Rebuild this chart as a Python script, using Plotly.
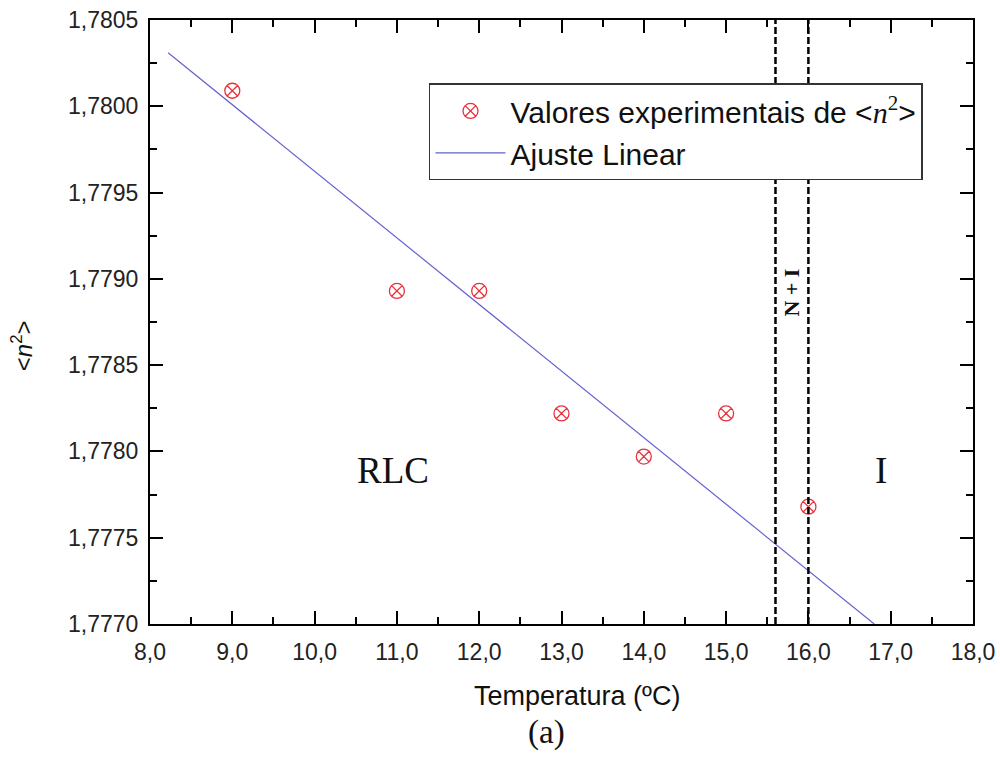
import plotly.graph_objects as go

# Data
temp = [9.0, 11.0, 12.0, 13.0, 14.0, 15.0, 16.0]
n2 = [1.78009, 1.77893, 1.77893, 1.77822, 1.77797, 1.77822, 1.77768]
fit_x = [8.22, 16.80]
fit_y = [1.78031, 1.77700]
phase_lines = [15.6, 16.0]
x_ticks = [8, 9, 10, 11, 12, 13, 14, 15, 16, 17, 18]
y_ticks = [1.7770, 1.7775, 1.7780, 1.7785, 1.7790, 1.7795, 1.7800, 1.7805]

SANS = "Liberation Sans, Arial, sans-serif"
SERIF = "Liberation Serif, Times New Roman, serif"
N2_LABEL = "&lt;<span style='font-family:Liberation Serif'><i>n</i><sup>2</sup></span>&gt;"

fig = go.Figure()
fig.add_trace(go.Scatter(
    x=temp, y=n2, mode="markers",
    name="Valores experimentais de " + N2_LABEL,
    marker=dict(symbol="circle-x-open", size=15, color="#e8323c",
                line=dict(width=1.3, color="#e8323c")),
))
fig.add_trace(go.Scatter(
    x=fit_x, y=fit_y, mode="lines", name="Ajuste Linear",
    line=dict(color="#6262d0", width=1.2),
))

for xv in phase_lines:
    fig.add_shape(type="line", x0=xv, x1=xv, xref="x", y0=0, y1=1, yref="paper",
                  line=dict(color="black", width=2.5, dash="7px,3px"))

axis_common = dict(
    showline=True, linecolor="black", linewidth=2, mirror="ticks",
    ticks="inside", ticklen=13, tickwidth=2, tickcolor="black",
    showgrid=False, zeroline=False, automargin=False,
    tickfont=dict(family=SANS, size=23, color="#222"),
)

fig.update_xaxes(
    range=[8, 18], tickvals=x_ticks, tickformat=".1f", ticklabelstandoff=6,
    minor=dict(ticks="inside", ticklen=7, tickwidth=2, tickcolor="black", dtick=0.5, showgrid=False),
    **axis_common,
)
fig.update_yaxes(
    range=[1.7770, 1.7805], tickvals=y_ticks, tickformat=".4f", ticklabelstandoff=5,
    minor=dict(ticks="inside", ticklen=7, tickwidth=2, tickcolor="black", dtick=0.00025, showgrid=False),
    **axis_common,
)

fig.add_annotation(text="Temperatura (ºC)", xref="paper", yref="paper", x=0.519, y=-0.119,
                   xanchor="center", yanchor="middle", showarrow=False,
                   font=dict(family=SANS, size=27, color="#111"))
fig.add_annotation(text="&lt;<i>n</i><sup>2</sup>&gt;", textangle=-90, xref="paper", yref="paper",
                   x=-0.1555, y=0.46, xanchor="center", yanchor="middle", showarrow=False,
                   font=dict(family=SANS, size=24, color="#111"))
fig.add_annotation(text="RLC", x=10.95, y=1.77789, xref="x", yref="y", showarrow=False,
                   font=dict(family=SERIF, size=37, color="#111"))
fig.add_annotation(text="I", x=16.88, y=1.77789, xref="x", yref="y", showarrow=False,
                   font=dict(family=SERIF, size=37, color="#111"))
fig.add_annotation(text="<b>N + I</b>", textangle=-90, x=15.8, y=1.77892, xref="x", yref="y",
                   showarrow=False, font=dict(family=SERIF, size=22, color="#111"))
fig.add_annotation(text="(a)", xref="paper", yref="paper", x=0.482, y=(624 - 732) / 604,
                   xanchor="center", yanchor="middle",
                   showarrow=False, font=dict(family=SERIF, size=33, color="#111"))

fig.update_layout(
    width=1000, height=759,
    margin=dict(l=150, r=27, t=20, b=135, autoexpand=False),
    plot_bgcolor="white", paper_bgcolor="white",
    separators=",.",
    showlegend=True,
    legend=dict(x=0.339, y=0.895, xanchor="left", yanchor="top",
                bgcolor="white", bordercolor="#333", borderwidth=1.5,
                font=dict(family=SANS, size=30, color="#111"),
                itemwidth=70, tracegroupgap=0),
)

fig.write_html("out.html")
